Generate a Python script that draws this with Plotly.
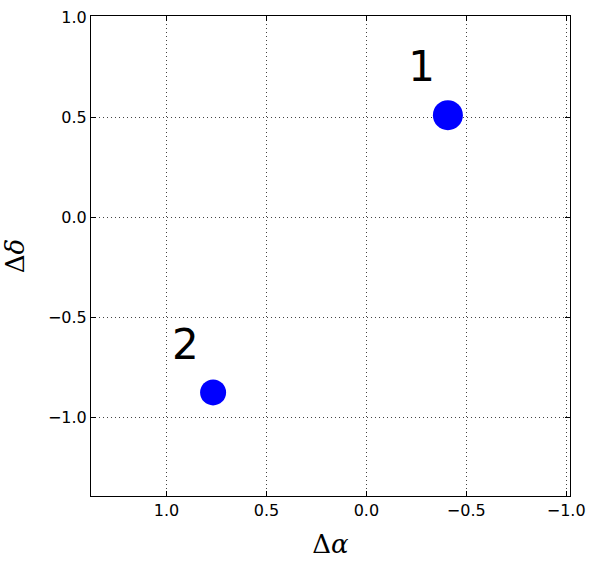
import plotly.graph_objects as go

labels = ["1", "2"]
dra = [-0.408, 0.767]
ddec = [0.51, -0.873]
sizes = [30, 26]
label_x = [-0.277, 0.906]
label_y = [0.733, -0.655]
tick_vals = [1.0, 0.5, 0.0, -0.5, -1.0]
tick_text = ["1.0", "0.5", "0.0", "\u22120.5", "\u22121.0"]

fig = go.Figure()
fig.add_trace(go.Scatter(
    x=dra, y=ddec, mode="markers",
    marker=dict(color="#0000ff", size=sizes, opacity=1, line=dict(width=0)),
    showlegend=False, hoverinfo="skip"))
fig.add_trace(go.Scatter(
    x=label_x, y=label_y, mode="text", text=labels,
    textfont=dict(family="DejaVu Sans", size=42, color="black"),
    textposition="middle center", showlegend=False, hoverinfo="skip"))

axis_common = dict(
    showline=True, linecolor="black", linewidth=1, mirror="ticks",
    ticks="inside", ticklen=5, tickcolor="black", tickwidth=1,
    showgrid=True, gridcolor="#444", griddash="1px,3px", gridwidth=1,
    zeroline=False, automargin=False,
    tickfont=dict(family="DejaVu Sans", size=16, color="black"),
    tickvals=tick_vals, ticktext=tick_text,
)

fig.update_layout(
    width=596, height=564,
    margin=dict(l=91, r=25.5, t=16, b=68),
    paper_bgcolor="white", plot_bgcolor="white",
    xaxis=dict(range=[1.378, -1.019],
               title=dict(text="Δ<i>α</i>", font=dict(family="DejaVu Serif", size=26, color="black")),
               **axis_common),
    yaxis=dict(range=[-1.39, 1.005],
               title=dict(text="Δ<i>δ</i>", font=dict(family="DejaVu Serif", size=26, color="black")),
               **axis_common),
)

fig.write_html("out.html", config={"displayModeBar": False},
               post_script="document.body.style.margin='0';")
